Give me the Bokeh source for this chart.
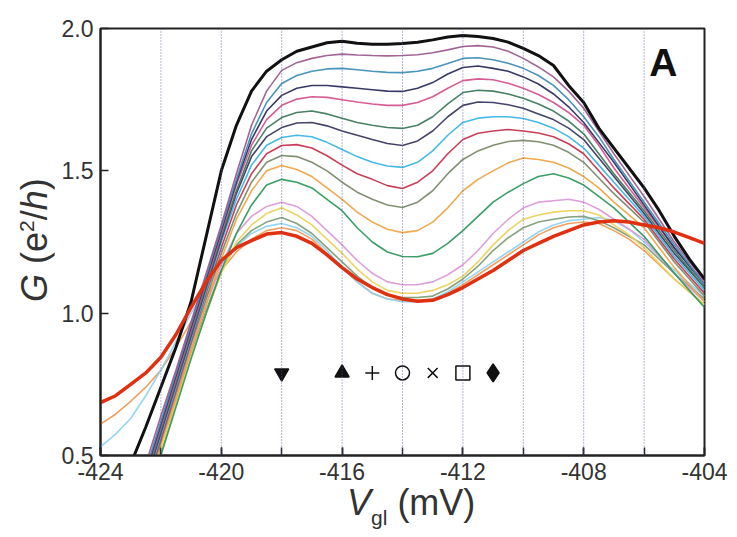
from bokeh.plotting import figure
from bokeh.models import Label, Span, SingleIntervalTicker, FixedTicker, PrintfTickFormatter, Div
from bokeh.layouts import row, column
from bokeh.embed import file_html
from bokeh.resources import INLINE

# ---------------- data (0.5 mV steps) ----------------
vgl = [-424, -423.5, -423, -422.5, -422, -421.5, -421, -420.5, -420, -419.5, -419,
       -418.5, -418, -417.5, -417, -416.5, -416, -415.5, -415, -414.5, -414,
       -413.5, -413, -412.5, -412, -411.5, -411, -410.5, -410, -409.5, -409,
       -408.5, -408, -407.5, -407, -406.5, -406, -405.5, -405, -404.5, -404]

g_black    = [0.15, 0.31, 0.47, 0.60, 0.74, 0.88, 1.04, 1.27, 1.50, 1.66, 1.78, 1.85, 1.89, 1.92, 1.935, 1.95, 1.955, 1.948, 1.945, 1.945, 1.947, 1.952, 1.96, 1.97, 1.975, 1.972, 1.965, 1.952, 1.93, 1.905, 1.87, 1.80, 1.74, 1.65, 1.58, 1.51, 1.44, 1.36, 1.27, 1.19, 1.12]
g_mauve    = [0.00, 0.15, 0.30, 0.47, 0.64, 0.80, 0.97, 1.14, 1.31, 1.49, 1.66, 1.78, 1.853, 1.88, 1.895, 1.905, 1.91, 1.907, 1.905, 1.904, 1.905, 1.908, 1.915, 1.925, 1.937, 1.94, 1.935, 1.92, 1.895, 1.865, 1.83, 1.78, 1.72, 1.64, 1.56, 1.485, 1.41, 1.33, 1.25, 1.18, 1.12]
g_teal     = [0.00, 0.14, 0.28, 0.45, 0.62, 0.79, 0.96, 1.13, 1.30, 1.47, 1.63, 1.74, 1.807, 1.835, 1.85, 1.858, 1.86, 1.855, 1.85, 1.846, 1.845, 1.85, 1.86, 1.877, 1.895, 1.897, 1.89, 1.878, 1.86, 1.835, 1.80, 1.75, 1.69, 1.62, 1.54, 1.465, 1.39, 1.315, 1.24, 1.17, 1.10]
g_navy     = [0.00, 0.13, 0.27, 0.44, 0.61, 0.78, 0.95, 1.12, 1.29, 1.46, 1.61, 1.71, 1.765, 1.79, 1.80, 1.80, 1.795, 1.79, 1.785, 1.78, 1.779, 1.79, 1.81, 1.84, 1.863, 1.868, 1.86, 1.85, 1.83, 1.805, 1.77, 1.725, 1.67, 1.60, 1.53, 1.455, 1.38, 1.305, 1.23, 1.165, 1.10]
g_pink     = [0.00, 0.12, 0.26, 0.43, 0.60, 0.77, 0.94, 1.11, 1.28, 1.45, 1.59, 1.68, 1.73, 1.752, 1.76, 1.758, 1.75, 1.742, 1.735, 1.73, 1.73, 1.74, 1.76, 1.79, 1.817, 1.823, 1.82, 1.808, 1.79, 1.768, 1.74, 1.705, 1.66, 1.59, 1.51, 1.44, 1.37, 1.30, 1.23, 1.17, 1.11]
g_dkgreen  = [0.00, 0.11, 0.25, 0.42, 0.59, 0.76, 0.93, 1.10, 1.27, 1.43, 1.57, 1.65, 1.687, 1.705, 1.71, 1.70, 1.685, 1.67, 1.66, 1.652, 1.649, 1.66, 1.69, 1.735, 1.775, 1.783, 1.78, 1.77, 1.755, 1.735, 1.71, 1.675, 1.63, 1.56, 1.49, 1.425, 1.36, 1.29, 1.22, 1.155, 1.09]
g_navy2    = [0.00, 0.10, 0.24, 0.41, 0.58, 0.75, 0.92, 1.09, 1.26, 1.42, 1.55, 1.62, 1.652, 1.668, 1.67, 1.658, 1.64, 1.625, 1.61, 1.596, 1.589, 1.605, 1.64, 1.69, 1.73, 1.742, 1.74, 1.732, 1.72, 1.70, 1.68, 1.65, 1.61, 1.545, 1.48, 1.415, 1.35, 1.28, 1.21, 1.15, 1.09]
g_cyan     = [0.00, 0.09, 0.23, 0.40, 0.57, 0.74, 0.91, 1.08, 1.25, 1.40, 1.52, 1.59, 1.617, 1.625, 1.62, 1.60, 1.575, 1.55, 1.53, 1.517, 1.512, 1.53, 1.57, 1.625, 1.67, 1.685, 1.69, 1.69, 1.684, 1.67, 1.65, 1.62, 1.58, 1.52, 1.46, 1.40, 1.34, 1.27, 1.20, 1.14, 1.08]
g_crimson  = [0.00, 0.08, 0.22, 0.39, 0.56, 0.73, 0.90, 1.07, 1.23, 1.38, 1.49, 1.56, 1.589, 1.592, 1.58, 1.553, 1.52, 1.49, 1.47, 1.448, 1.438, 1.46, 1.50, 1.56, 1.61, 1.632, 1.64, 1.645, 1.64, 1.633, 1.62, 1.595, 1.56, 1.50, 1.44, 1.385, 1.33, 1.26, 1.19, 1.13, 1.07]
g_olive    = [0.00, 0.07, 0.21, 0.38, 0.55, 0.72, 0.89, 1.05, 1.21, 1.35, 1.46, 1.53, 1.554, 1.55, 1.53, 1.50, 1.46, 1.425, 1.40, 1.38, 1.371, 1.39, 1.43, 1.49, 1.54, 1.57, 1.59, 1.603, 1.607, 1.602, 1.59, 1.565, 1.53, 1.475, 1.42, 1.37, 1.32, 1.25, 1.18, 1.12, 1.06]
g_orange   = [0.00, 0.06, 0.20, 0.37, 0.54, 0.70, 0.87, 1.03, 1.19, 1.33, 1.43, 1.50, 1.519, 1.505, 1.48, 1.44, 1.40, 1.355, 1.32, 1.295, 1.283, 1.29, 1.32, 1.37, 1.43, 1.47, 1.50, 1.528, 1.545, 1.54, 1.53, 1.51, 1.48, 1.44, 1.39, 1.345, 1.30, 1.23, 1.16, 1.10, 1.04]
g_green    = [0.00, 0.03, 0.17, 0.33, 0.50, 0.67, 0.84, 1.00, 1.15, 1.28, 1.38, 1.45, 1.47, 1.46, 1.44, 1.40, 1.36, 1.30, 1.25, 1.215, 1.199, 1.198, 1.21, 1.245, 1.29, 1.34, 1.39, 1.425, 1.455, 1.48, 1.49, 1.475, 1.45, 1.41, 1.37, 1.32, 1.27, 1.205, 1.14, 1.08, 1.02]
g_lavender = [0.00, 0.10, 0.25, 0.40, 0.55, 0.71, 0.87, 1.03, 1.17, 1.28, 1.34, 1.375, 1.39, 1.375, 1.34, 1.29, 1.24, 1.185, 1.14, 1.11, 1.10, 1.10, 1.11, 1.135, 1.17, 1.22, 1.28, 1.33, 1.37, 1.39, 1.395, 1.40, 1.39, 1.365, 1.33, 1.295, 1.26, 1.20, 1.14, 1.09, 1.04]
g_yellow   = [0.00, 0.08, 0.22, 0.37, 0.52, 0.69, 0.85, 1.00, 1.14, 1.25, 1.31, 1.35, 1.37, 1.345, 1.31, 1.26, 1.21, 1.155, 1.11, 1.08, 1.07, 1.07, 1.08, 1.10, 1.13, 1.18, 1.24, 1.29, 1.33, 1.345, 1.355, 1.36, 1.36, 1.345, 1.31, 1.275, 1.23, 1.175, 1.12, 1.075, 1.03]
g_olive2   = [0.00, 0.07, 0.20, 0.35, 0.51, 0.69, 0.86, 1.01, 1.15, 1.24, 1.29, 1.32, 1.336, 1.315, 1.28, 1.23, 1.18, 1.13, 1.09, 1.065, 1.055, 1.055, 1.06, 1.085, 1.12, 1.165, 1.22, 1.265, 1.30, 1.32, 1.33, 1.338, 1.34, 1.325, 1.30, 1.27, 1.24, 1.19, 1.14, 1.095, 1.05]
g_ltblue   = [0.53, 0.575, 0.63, 0.71, 0.80, 0.90, 1.00, 1.09, 1.17, 1.235, 1.28, 1.305, 1.315, 1.30, 1.27, 1.22, 1.16, 1.11, 1.07, 1.05, 1.04, 1.04, 1.05, 1.075, 1.11, 1.145, 1.18, 1.215, 1.25, 1.285, 1.31, 1.325, 1.33, 1.336, 1.325, 1.295, 1.25, 1.20, 1.15, 1.105, 1.06]
g_orange2  = [0.61, 0.645, 0.69, 0.74, 0.80, 0.88, 0.97, 1.06, 1.15, 1.215, 1.26, 1.29, 1.30, 1.29, 1.26, 1.21, 1.16, 1.11, 1.07, 1.05, 1.045, 1.045, 1.05, 1.07, 1.10, 1.135, 1.17, 1.205, 1.24, 1.275, 1.30, 1.315, 1.32, 1.315, 1.29, 1.26, 1.22, 1.17, 1.12, 1.075, 1.03]
g_red      = [0.686, 0.71, 0.75, 0.79, 0.845, 0.925, 1.02, 1.11, 1.185, 1.23, 1.255, 1.278, 1.283, 1.27, 1.245, 1.205, 1.16, 1.12, 1.09, 1.065, 1.05, 1.042, 1.045, 1.065, 1.09, 1.12, 1.15, 1.185, 1.22, 1.245, 1.27, 1.29, 1.31, 1.32, 1.325, 1.32, 1.31, 1.30, 1.285, 1.265, 1.245]

dotted_x = [-422, -420, -418, -416, -414, -412, -410, -408, -406]
y_ticks = [0.5, 1.0, 1.5, 2.0]

marker_x = [-418, -416, -415, -414, -413, -412, -411]
marker_kinds = ["inverted_triangle", "triangle", "cross", "circle", "x", "square", "diamond"]
marker_y = 0.79

# ---------------- figure ----------------
FONT = "Liberation Sans"
p = figure(width=683, height=490, x_range=(-424, -404), y_range=(0.5, 2.0),
           output_backend="svg", toolbar_location=None,
           min_border_left=46, min_border_right=33, min_border_top=28, min_border_bottom=35)
p.xgrid.visible = False
p.ygrid.visible = False
p.background_fill_color = "white"
p.border_fill_color = "white"
p.outline_line_color = "#222222"
p.outline_line_width = 2
p.outline_line_alpha = 1.0

for xv in dotted_x:
    p.add_layout(Span(location=xv, dimension="height", line_color="#5a5aa8",
                      line_width=1, line_dash="1 2", line_alpha=0.9))

thin = [
    (g_orange2, "#f29a55"), (g_ltblue, "#8fd3f2"), (g_olive2, "#7f9e78"),
    (g_yellow, "#ecd25a"), (g_lavender, "#dc9ad8"), (g_green, "#2f9a5e"),
    (g_orange, "#eea448"), (g_olive, "#7b8a6a"), (g_crimson, "#c8344e"),
    (g_cyan, "#3bb6e6"), (g_navy2, "#3a3a62"), (g_dkgreen, "#3e7a5c"),
    (g_pink, "#d4548e"), (g_navy, "#2d2f5e"), (g_teal, "#3f8eb6"),
    (g_mauve, "#9c5c8e"),
]
for ys, col in thin:
    p.line(vgl, ys, line_color=col, line_width=1.6, line_alpha=0.95)

p.line(vgl, g_black, line_color="#111111", line_width=3)
p.line(vgl, g_red, line_color="#e0300f", line_width=3.5)

for xm, kind in zip(marker_x, marker_kinds):
    filled = kind in ("inverted_triangle", "triangle", "diamond")
    size = 18 if kind == "diamond" else 14
    p.scatter([xm], [marker_y], marker=kind, size=size,
              fill_color="#111111" if filled else None,
              line_color="#111111", line_width=1.5)

p.xaxis.ticker = SingleIntervalTicker(interval=4, num_minor_ticks=2)
p.xaxis.formatter = PrintfTickFormatter(format="%d")
p.yaxis.ticker = FixedTicker(ticks=y_ticks)
p.yaxis.formatter = PrintfTickFormatter(format="%.1f")
for ax in (p.xaxis[0], p.yaxis[0]):
    ax.axis_line_width = 2
    ax.axis_line_color = "#222222"
    ax.major_tick_in = 8
    ax.major_tick_out = 0
    ax.major_tick_line_width = 1.5
    ax.major_tick_line_color = "#222222"
    ax.major_label_text_font = FONT
    ax.major_label_text_font_size = "23px"
    ax.major_label_text_color = "#333333"
    ax.major_label_standoff = 7
p.xaxis.minor_tick_in = 8
p.xaxis.minor_tick_out = 0
p.xaxis.minor_tick_line_width = 1.5
p.xaxis.minor_tick_line_color = "#222222"
p.yaxis.minor_tick_line_color = None

p.add_layout(Label(x=-404.9, y=1.88, text="A", text_font=FONT, text_font_style="bold",
                   text_font_size="39px", text_color="#111111", text_align="right",
                   text_baseline="alphabetic"))

# ---------------- axis titles as HTML text ----------------
ylab_html = (
    "<div style=\"position:relative; left:17px; top:302px; width:200px; height:36px; "
    "line-height:36px; transform-origin:0 0; transform:rotate(-90deg); white-space:nowrap; "
    "font-family:'Liberation Sans'; font-size:36px; color:#333333;\">"
    "<i>G</i> (e<span style=\"font-size:21px; position:relative; top:-13px;\">2</span>/<i>h</i>)</div>"
)
xlab_html = (
    "<div style=\"position:relative; left:293px; top:-5px; height:36px; line-height:36px; "
    "white-space:nowrap; font-family:'Liberation Sans'; font-size:36px; color:#333333;\">"
    "<i>V</i><span style=\"font-size:21px; position:relative; top:10px;\">gl</span> (mV)</div>"
)
ylab = Div(text=ylab_html, width=54, height=537, margin=0)
xlab = Div(text=xlab_html, width=683, height=47, margin=0)

layout = row(ylab, column(p, xlab, spacing=0), spacing=0)

open("out.html", "w").write(file_html(layout, INLINE))
